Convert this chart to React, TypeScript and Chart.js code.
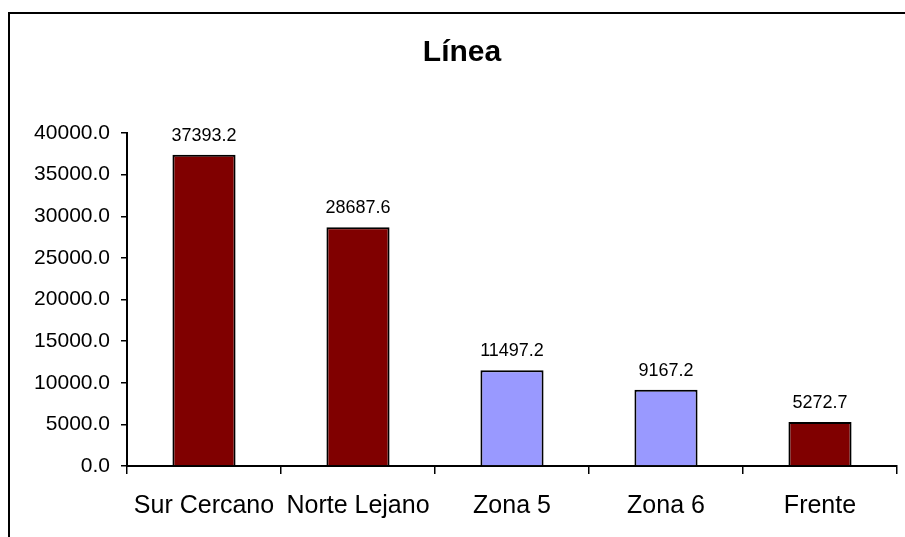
import React, { useEffect, useRef } from "react";
import { Chart, registerables } from "chart.js";

Chart.register(...registerables);

const categories = ["Sur Cercano", "Norte Lejano", "Zona 5", "Zona 6", "Frente"];
const values = [37393.2, 28687.6, 11497.2, 9167.2, 5272.7];
const barColors = ["#800000", "#800000", "#9999FF", "#9999FF", "#800000"];
const titleText = "Línea";
const yMin = 0;
const yMax = 40000;
const yStep = 5000;

const FONT = "Arial, 'Liberation Sans', sans-serif";

const frameAndLabels = {
  id: "frameAndLabels",
  beforeDraw(chart: any) {
    const ctx = chart.ctx;
    ctx.save();
    ctx.fillStyle = "#ffffff";
    ctx.fillRect(0, 0, chart.width, chart.height);
    ctx.strokeStyle = "#000000";
    ctx.lineWidth = 2;
    ctx.strokeRect(9, 13, 3000, 3000);
    ctx.restore();
  },
  afterDatasetsDraw(chart: any) {
    const ctx = chart.ctx;
    const meta = chart.getDatasetMeta(0);
    ctx.save();
    ctx.font = `18px ${FONT}`;
    ctx.fillStyle = "#000000";
    ctx.textAlign = "center";
    ctx.textBaseline = "alphabetic";
    meta.data.forEach((bar: any, i: number) => {
      ctx.fillText(values[i].toFixed(1), bar.x, bar.y - 14);
    });
    ctx.restore();
  },
};

export default function App() {
  const ref = useRef<HTMLCanvasElement>(null);
  useEffect(() => {
    if (!ref.current) return;
    const chart = new Chart(ref.current, {
      type: "bar",
      data: {
        labels: categories,
        datasets: [
          {
            data: values,
            backgroundColor: barColors,
            borderColor: "#000000",
            borderWidth: 2,
            categoryPercentage: 1,
            barPercentage: 0.41,
          },
        ],
      },
      options: {
        responsive: false,
        animation: false,
        layout: { padding: { left: 27, right: 27, top: 0, bottom: 0 } },
        plugins: {
          legend: { display: false },
          tooltip: { enabled: false },
          title: {
            display: true,
            text: titleText,
            color: "#000000",
            font: { family: FONT, size: 30, weight: "bold", lineHeight: 1.2 },
            padding: { top: 35, bottom: 62 },
          },
        },
        scales: {
          x: {
            grid: {
              display: true,
              drawOnChartArea: false,
              drawTicks: true,
              tickLength: 8,
              color: "#000000",
              lineWidth: 1.5,
            },
            border: { display: true, color: "#000000", width: 2 },
            ticks: {
              color: "#000000",
              font: { family: FONT, size: 25 },
              padding: 17,
              maxRotation: 0,
              autoSkip: false,
            },
            afterFit(scale: any) {
              scale.height = 71;
            },
          },
          y: {
            min: yMin,
            max: yMax,
            grid: {
              display: true,
              drawOnChartArea: false,
              drawTicks: true,
              tickLength: 6,
              color: "#000000",
              lineWidth: 1.5,
            },
            border: { display: true, color: "#000000", width: 2 },
            ticks: {
              stepSize: yStep,
              color: "#000000",
              font: { family: FONT, size: 21 },
              padding: 11,
              callback: (v: any) => Number(v).toFixed(1),
            },
            afterFit(scale: any) {
              scale.width = 100;
            },
          },
        },
      },
      plugins: [frameAndLabels],
    });
    return () => chart.destroy();
  }, []);

  return (
    <div
      style={{
        position: "fixed",
        left: 0,
        top: 0,
        width: 905,
        height: 537,
        overflow: "hidden",
        background: "#ffffff",
      }}
    >
      <canvas ref={ref} width={924} height={537} style={{ display: "block", width: 924, height: 537 }} />
    </div>
  );
}
